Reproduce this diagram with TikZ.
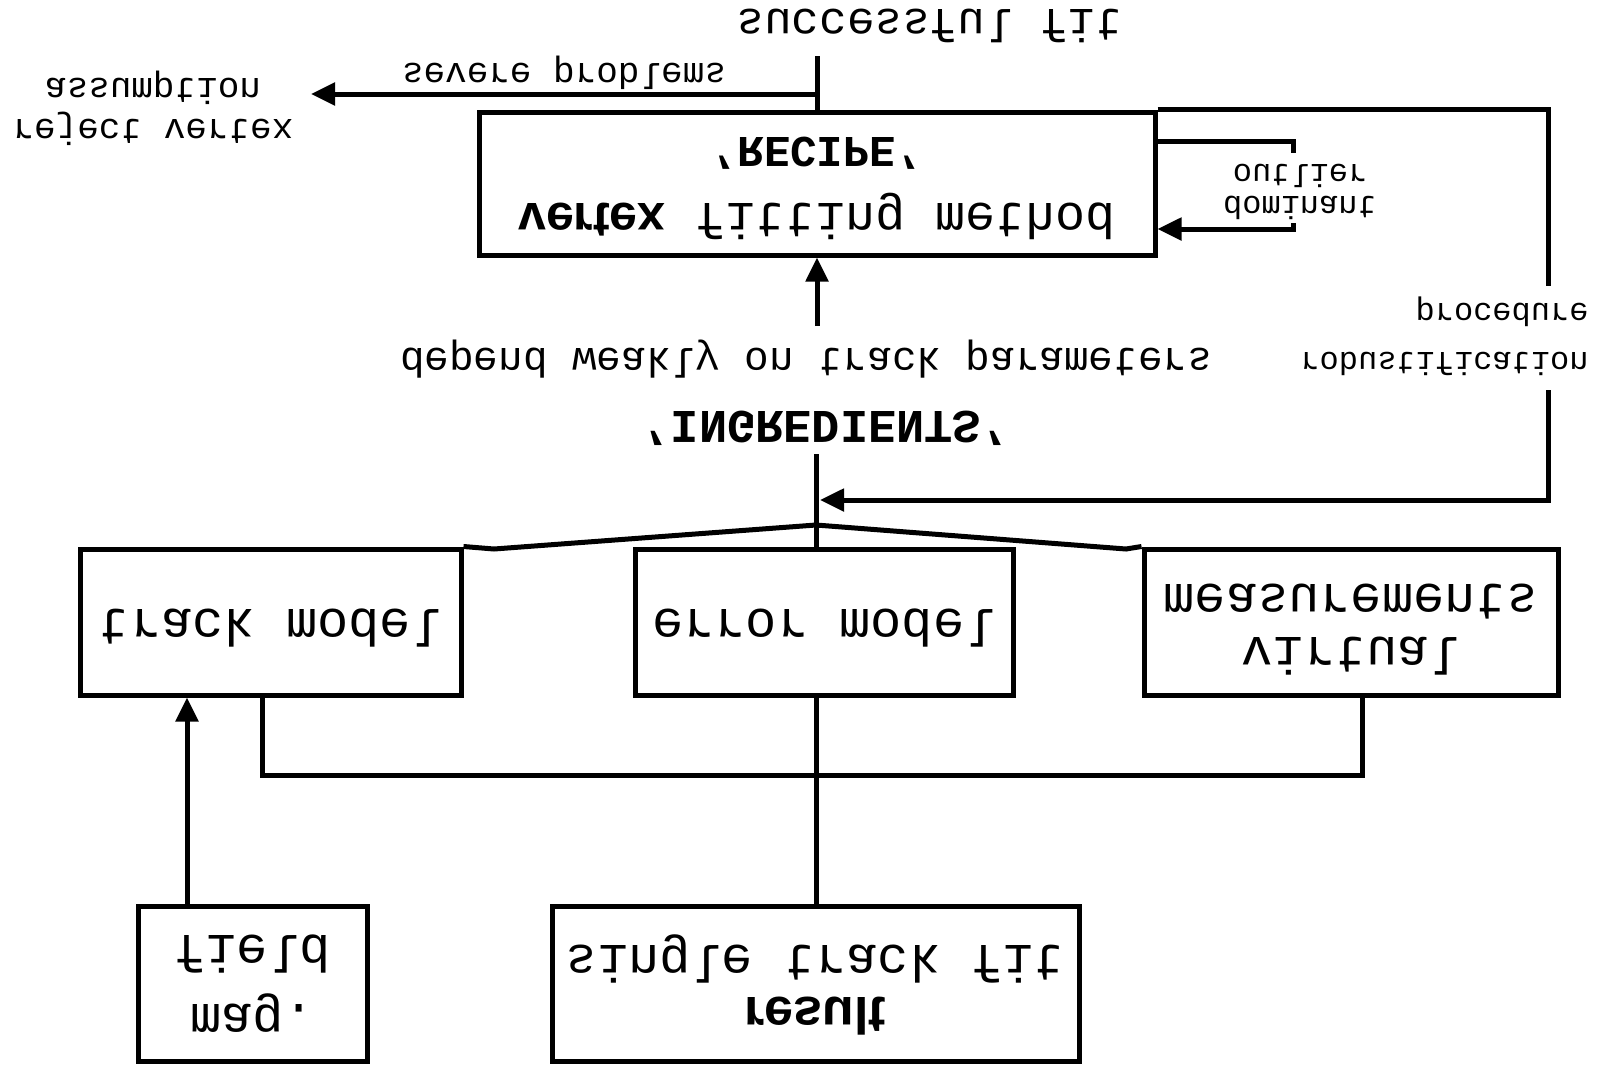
\documentclass[tikz,border=0pt]{standalone}
\usepackage{fontspec}
\setmainfont{Liberation Mono}
\setsansfont{Liberation Sans}
\setmonofont{Liberation Mono}
\usetikzlibrary{arrows.meta}
\newcommand\fz[2]{\fontsize{#1}{#2}\selectfont}
\newcommand\flipt[2][c]{\scalebox{1}[-1]{\begin{tabular}{@{}#1@{}}#2\end{tabular}}}
\begin{document}
\begin{tikzpicture}[x=1pt,y=-1pt,
  line width=5pt,
  boxn/.style={draw, line width=5pt, fill=white, inner sep=0pt},
  arr/.style={-{Triangle[length=24pt,width=22pt]}},
  lbl/.style={inner sep=3pt, fill=white}]
\useasboundingbox (0,0) rectangle (1599,1072);

% boxes
\node[boxn, minimum width=676pt, minimum height=143pt] (recipe) at (817,183.5)
  {\fz{50}{66}\flipt{{\sffamily\bfseries vertex} fitting method\\{\fz{44}{66}\bfseries 'RECIPE'}}};
\node[boxn, minimum width=381pt, minimum height=146pt] (track) at (270.5,622)
  {\fz{52}{62}\flipt{track model}};
\node[boxn, minimum width=378pt, minimum height=146pt] (error) at (824,622)
  {\fz{52}{62}\flipt{error model}};
\node[boxn, minimum width=414pt, minimum height=146pt] (virtual) at (1351,622)
  {\fz{52}{53}\flipt{virtual\\measurements}};
\node[boxn, minimum width=229pt, minimum height=155pt] (mag) at (252.5,983.5)
  {\fz{52}{69}\flipt{mag.\\field}};
\node[boxn, minimum width=527pt, minimum height=155pt] (stf) at (815.5,983.5)
  {\fz{52}{46}\flipt{{\sffamily\bfseries result}\\single track fit}};

% plain labels
\node (succ) at (930,19) {\fz{46}{50}\flipt{successful fit}};
\node (rej) at (153,107) {\fz{36}{41}\flipt{reject vertex\\assumption}};
\node (dep) at (806,357) {\fz{41}{45}\flipt{depend weakly on track parameters}};
\node (ing) at (826,421) {\fz{47}{50}\bfseries\flipt{'INGREDIENTS'}};

% coordinates
\coordinate (sf) at (817,56);
\coordinate (j1) at (817,94);
\coordinate (rejtip) at (311,94);
\coordinate (sl1) at (1293,141);
\coordinate (sl2) at (1293,229);
\coordinate (rc) at (1548,500);
\coordinate (loopend) at (820,500);
\coordinate (dep0) at (817,326);
\coordinate (ing0) at (816,454);
\coordinate (jn) at (816,525);
\coordinate (tl) at (494,549);
\coordinate (tr) at (1126,549);
\coordinate (b1) at (262,775);
\coordinate (b2) at (1362,775);
\coordinate (m1) at (187,906);

% connectors
\draw (recipe.north) -- (sf);
\draw[arr] (j1) -- (rejtip) node[midway, above=-3pt] (sev) {\fz{36}{40}\flipt{severe problems}};
\draw[arr] (recipe.east |- sl1) -- (sl1) -- (sl2) -- (recipe.east |- sl2);
\draw[arr] (recipe.north east) -| (rc) -- (loopend);
\draw[arr] (dep0) -- (recipe.south);
\draw (ing0) -- (jn |- error.north);
\draw (jn) -- (tl) -- (track.north east);
\draw (jn) -- (tr) -- (virtual.north west);
\draw (b1 |- track.south) -- (b1) -- (b2) -- (b2 |- virtual.south);
\draw (jn |- error.south) -- (jn |- stf.north);
\draw[arr] (m1 |- mag.north) -- (m1 |- track.south);

% labels over lines
\node[lbl] (dom) at (1300,188) {\fz{32}{29}\flipt{dominant\\outlier}};
\node[lbl, anchor=east] (rob) at (1594,338) {\fz{32}{49}\flipt[r]{robustification\\procedure}};
\end{tikzpicture}
\end{document}
